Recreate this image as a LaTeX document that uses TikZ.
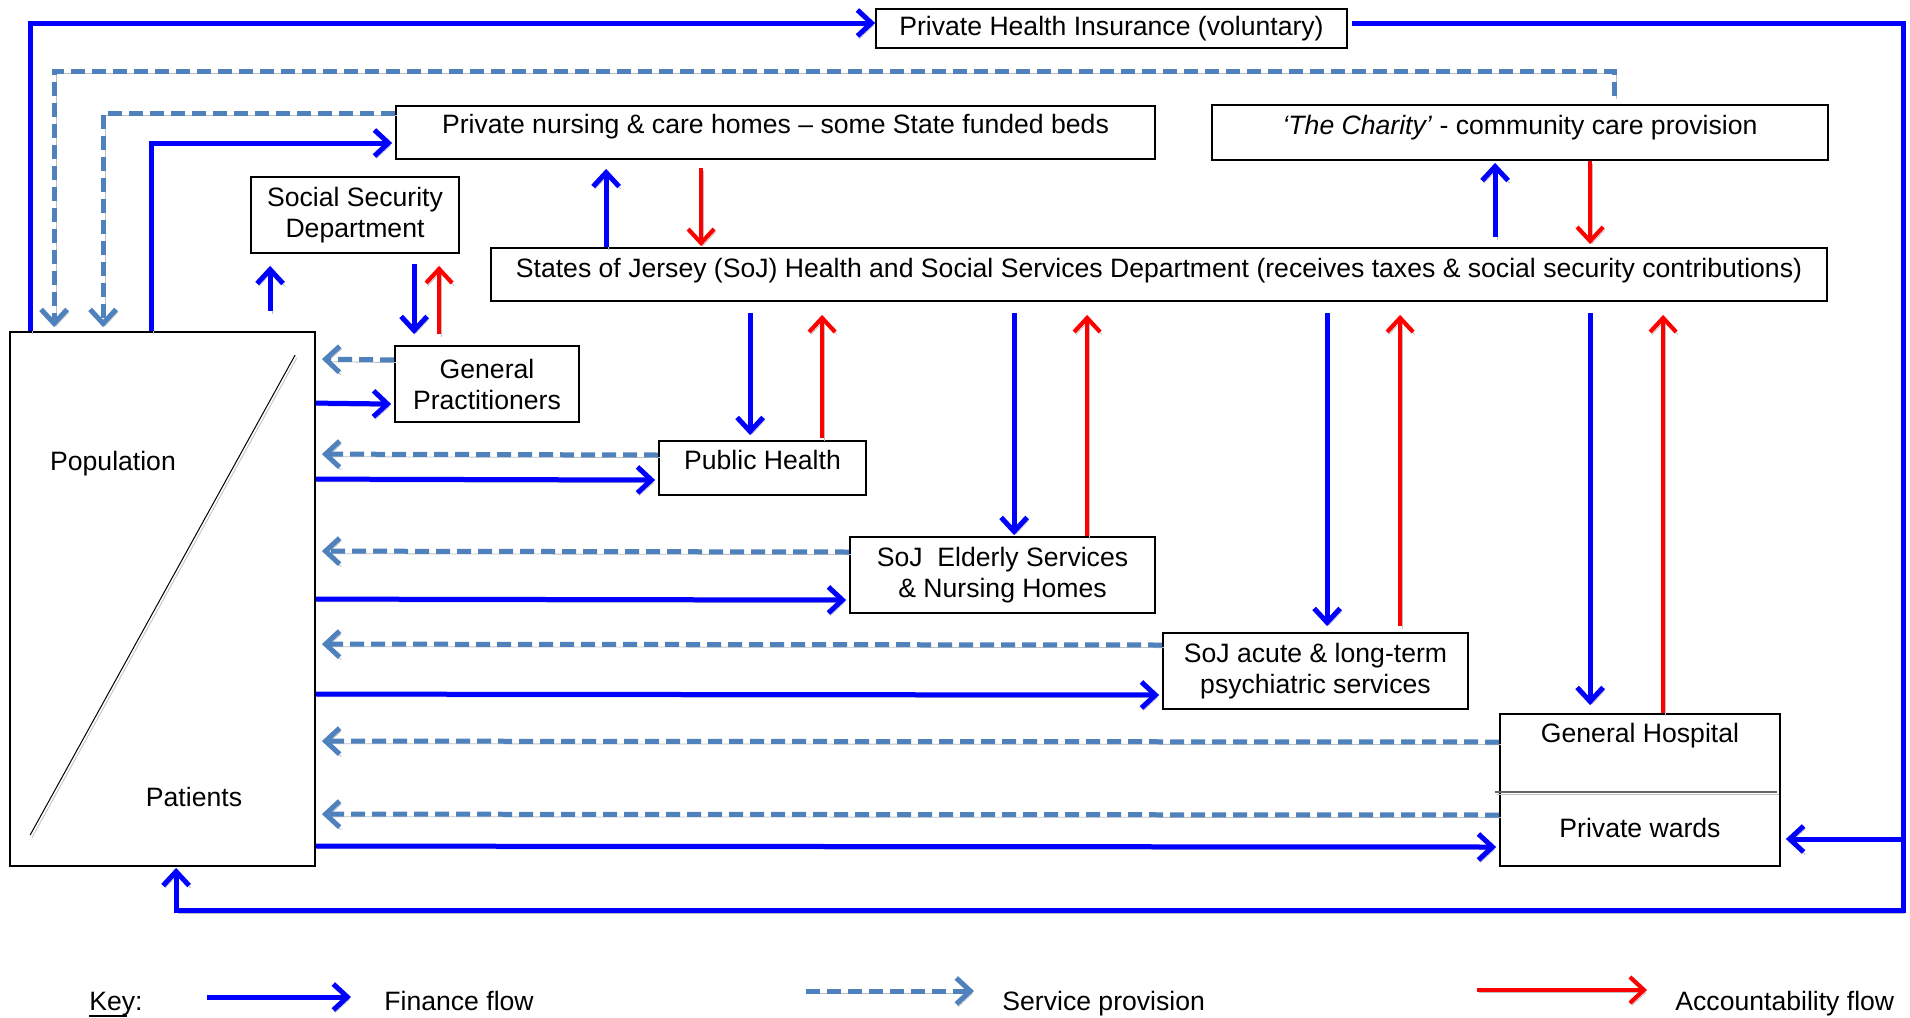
\documentclass[tikz,border=0pt]{standalone}
\usepackage{fontspec}
\setmainfont{Liberation Sans}
\usetikzlibrary{arrows.meta, calc}
\definecolor{flowBlue}{HTML}{0000FF}
\definecolor{serviceBlue}{HTML}{4F81BD}
\definecolor{accountRed}{HTML}{FF0000}

\begin{document}
\begin{tikzpicture}[x=0.5pt, y=-0.5pt,
    font=\fontsize{13.3}{15.5}\selectfont,
    flowbox/.style={draw, line width=0.9pt, inner sep=2pt},
    lbl/.style={inner sep=0pt, text height=9.6pt, text depth=0pt},
    lineshade/.style={preaction={draw=black!25,
                      transform canvas={shift={(0.9pt,-1.3pt)}}}},
    finance/.style={lineshade, draw=flowBlue, line width=2.5pt,
                    -{Straight Barb[length=7pt, width=13pt]}},
    service/.style={lineshade, draw=serviceBlue, line width=2.5pt,
                    dash pattern=on 7pt off 3.5pt,
                    -{Straight Barb[length=7pt, width=13pt]}},
    account/.style={lineshade, draw=accountRed, line width=2.1pt,
                    -{Straight Barb[length=7pt, width=13pt]}},
  ]
    \path[use as bounding box, fill=white] (0,0) rectangle (1910,1017);

    % boxes
    \node[flowbox, minimum width=235.5pt, minimum height=19.5pt] (phi)
      at (1111.5,28.5) {Private Health Insurance (voluntary)};
    \node[flowbox, minimum width=379.5pt, minimum height=26.5pt,
          text height=9.6pt, text depth=8.5pt] (nurse)
      at (775.5,132.5) {Private nursing \& care homes – some State funded beds};
    \node[flowbox, minimum width=308pt, minimum height=27.5pt,
          text height=9.6pt, text depth=7.5pt] (charity)
      at (1520,132.5) {\textit{‘The Charity’} - community care provision};
    \node[flowbox, minimum width=104pt, minimum height=38pt, align=center] (ssd)
      at (355,215) {Social Security\\Department};
    \node[flowbox, minimum width=668pt, minimum height=26.5pt,
          text height=9.6pt, text depth=6.5pt] (states)
      at (1159,274.5) {States of Jersey (SoJ) Health and Social Services Department (receives taxes \& social security contributions)};
    \node[flowbox, minimum width=152.5pt, minimum height=267pt] (pop)
      at (162.5,599) {};
    \node[flowbox, minimum width=92pt, minimum height=38pt, align=center] (gp)
      at (487,384) {General\\Practitioners};
    \node[flowbox, minimum width=103.5pt, minimum height=27pt,
          text height=9.6pt, text depth=8pt] (ph)
      at (762.5,468) {Public Health};
    \node[flowbox, minimum width=152.5pt, minimum height=38pt, align=center] (eld)
      at (1002.5,575) {SoJ\ \ Elderly Services\\\& Nursing Homes};
    \node[flowbox, minimum width=152.5pt, minimum height=38pt, align=center] (psy)
      at (1315.5,671) {SoJ acute \& long-term\\psychiatric services};
    \node[flowbox, minimum width=140pt, minimum height=76pt] (gh)
      at (1640,790) {};

    % texts inside population and hospital
    \node[lbl] (popname) at (113,461) {Population};
    \node[lbl] (patname) at (194,797) {Patients};
    \node[lbl] (ghname) at (1640,733) {General Hospital};
    \node[lbl] (ghpriv) at (1640,828) {Private wards};
    \draw[lineshade, line width=0.5pt] ($(pop.north west)+(286,24)$)
      -- ($(pop.north west)+(21,504)$);
    \draw[lineshade, gray!80!black, line width=0.6pt] ($(gh.west)+(-4,2)$)
      -- ($(gh.east)+(-4,2)$);

    % outer finance loop
    \coordinate (rimturn) at (1903,839);
    \draw[finance] ($(pop.north west)+(21,0)$) |- ($(phi.west)+(0,-5.5)$);
    \draw[finance] ($(phi.east)+(4,-5.5)$) -| (rimturn)
      -- ($(gh.east)+(5,49)$);
    \draw[finance] (rimturn) |- ($(pop.south west)+(167,44)$)
      -- ($(pop.south west)+(167,1)$);

    % top left flows
    \draw[finance] ($(pop.north west)+(142,0)$) |- ($(nurse.west)+(-3,10.5)$);
    \draw[service] ($(nurse.west)+(0,-19.5)$) -| ($(pop.north west)+(94,-4)$);
    \draw[service] ($(charity.north west)+(403,-8)$)
      |- ($(pop.north west)+(45,-260)$) -- ($(pop.north west)+(45,-4)$);
    \draw[finance] ($(pop.north west)+(261,-20)$) -- ($(ssd.south west)+(20,12)$);
    \draw[finance] ($(ssd.south west)+(164,10)$) -- ($(gp.north west)+(20,-11)$);
    \draw[account] ($(gp.north west)+(45,-11)$) -- ($(ssd.south west)+(189,12)$);

    % above the States department
    \draw[finance] ($(states.north west)+(116,0)$) -- ($(nurse.south west)+(211,9)$);
    \draw[account] ($(nurse.south west)+(306,8)$) -- ($(states.north west)+(211,-1)$);
    \draw[finance] ($(states.north west)+(1005,-10)$) -- ($(charity.south west)+(284,2)$);
    \draw[account] ($(charity.south west)+(379,0)$) -- ($(states.north west)+(1100,-3)$);

    % below the States department
    \draw[finance] ($(states.south west)+(260,11)$) -- ($(ph.north west)+(92,-5)$);
    \draw[account] ($(ph.north west)+(164,-2)$) -- ($(states.south west)+(332,13)$);
    \draw[finance] ($(states.south west)+(524,11)$) -- ($(eld.north west)+(165,-1)$);
    \draw[account] ($(eld.north west)+(238,0)$) -- ($(states.south west)+(597,13)$);
    \draw[finance] ($(states.south west)+(837,11)$) -- ($(psy.north west)+(165,-6)$);
    \draw[account] ($(psy.north west)+(238,-6)$) -- ($(states.south west)+(910,13)$);
    \draw[finance] ($(states.south west)+(1100,11)$) -- ($(gh.north west)+(91,-8)$);
    \draw[account] ($(gh.north west)+(164,0)$) -- ($(states.south west)+(1173,13)$);

    % population to services and back
    \draw[service] ($(gp.west)+(0,-24)$) -- ($(pop.north east)+(6,28)$);
    \draw[finance] ($(pop.north east)+(0,72)$) -- ($(gp.west)+(-3,20)$);
    \draw[service] ($(ph.west)+(0,-13)$) -- ($(pop.north east)+(6,123)$);
    \draw[finance] ($(pop.north east)+(0,148)$) -- ($(ph.west)+(-3,12)$);
    \draw[service] ($(eld.west)+(0,-23)$) -- ($(pop.north east)+(6,220)$);
    \draw[finance] ($(pop.north east)+(0,268)$) -- ($(eld.west)+(-3,25)$);
    \draw[service] ($(psy.west)+(0,-26)$) -- ($(pop.north east)+(6,313)$);
    \draw[finance] ($(pop.north east)+(0,363)$) -- ($(psy.west)+(-3,24)$);
    \draw[service] ($(gh.west)+(0,-48)$) -- ($(pop.north east)+(6,410)$);
    \draw[service] ($(gh.west)+(0,25)$) -- ($(pop.north east)+(6,483)$);
    \draw[finance] ($(pop.north east)+(0,515)$) -- ($(gh.west)+(-3,57)$);

    % key
    \node[lbl, anchor=west] (keyword) at (89,1001)
      {\rlap{\rule[-3pt]{19pt}{1pt}}Key:};
    \node[lbl, anchor=west] (finkey) at (384,1001) {Finance flow};
    \node[lbl, anchor=west] (srvkey) at (1002,1001) {Service provision};
    \node[lbl, anchor=west] (acckey) at (1675,1001) {Accountability flow};
    \draw[finance] ($(finkey.west)+(-177,-4)$) -- ($(finkey.west)+(-33,-4)$);
    \draw[service] ($(srvkey.west)+(-196,-10)$) -- ($(srvkey.west)+(-28,-10)$);
    \draw[account] ($(acckey.west)+(-198,-11)$) -- ($(acckey.west)+(-28,-11)$);
  \end{tikzpicture}
\end{document}
